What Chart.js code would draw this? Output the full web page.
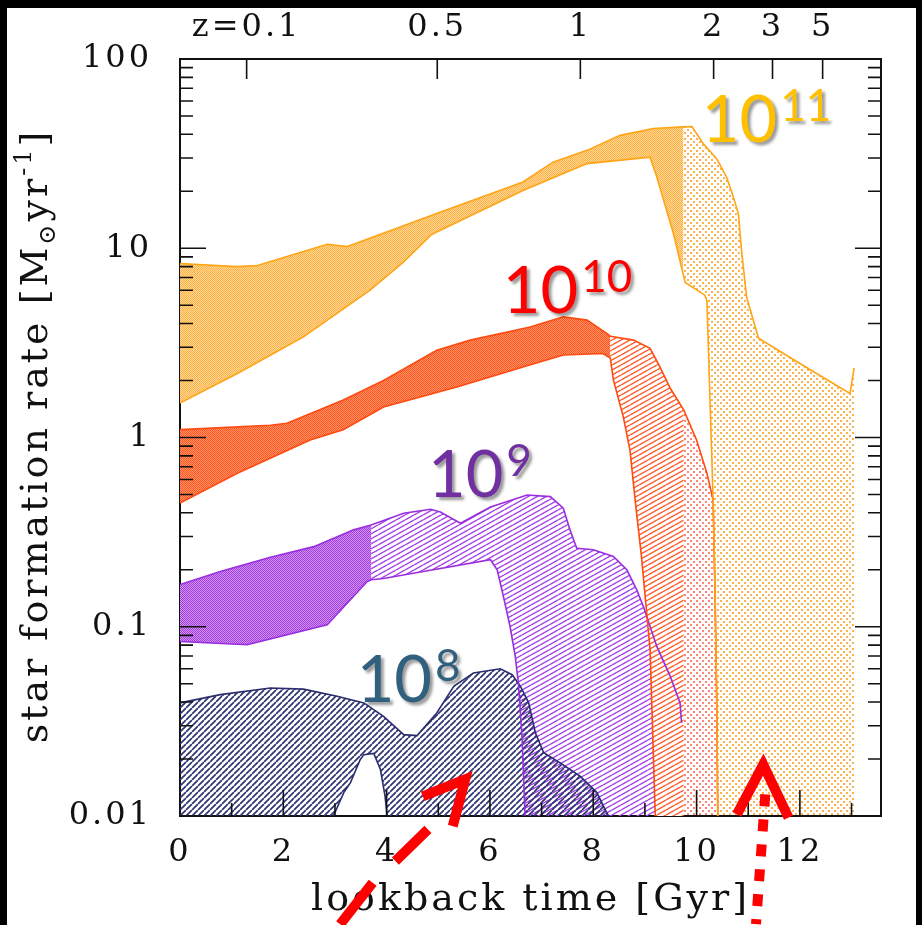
<!DOCTYPE html>
<html>
<head>
<meta charset="utf-8">
<title>Star formation histories</title>
<script src="https://cdn.jsdelivr.net/npm/chart.js"></script>
<style>
  html, body { margin: 0; padding: 0; background: #000; }
  #wrap { width: 922px; height: 925px; }
</style>
</head>
<body>
<div id="wrap"><canvas id="sfr" width="922" height="925"></canvas></div>
<script>
// lower edge for regions that run down to the bottom axis (sits below 0.01, gets clipped)
const FLOOR = 0.005;

// axis ticks
const xTickValues = [0, 2, 4, 6, 8, 10, 12];
const yTickValues = [0.01, 0.1, 1, 10, 100];
const yTickLabels = ['0.01', '0.1', '1', '10', '100'];
const zTickAges = [1.29, 4.98, 7.75, 10.33, 11.47, 12.44];
const zTickLabels = ['z=0.1', '0.5', '1', '2', '3', '5'];

// 10^11 halo: [lookback Gyr, SFR]
const m11DenseTop = [[0, 8.3], [1.1, 8.0], [1.5, 8.1], [2.85, 10.5], [3.24, 10.2], [4.98, 15.3], [6.64, 22.4],
  [7.22, 28.5], [7.88, 32.9], [8.52, 39.5], [9.16, 42.9], [9.74, 43.8]];
const m11DenseBottom = [[0, 1.52], [1.11, 2.18], [2.39, 3.4], [3.68, 6.0], [4.33, 8.47], [4.85, 11.7], [4.97, 12.2],
  [6.64, 20.2], [7.88, 28], [9.1, 30.3], [9.23, 23.8], [9.55, 12.0], [9.74, 7.3]];
const m11DotsTop = [[9.74, 43.8], [9.91, 44], [10.13, 35.7], [10.39, 29.7], [10.58, 23.8], [10.71, 18.7], [10.81, 15.2],
  [10.87, 9.75], [10.97, 5.5], [11.2, 3.35], [12.0, 2.46], [12.97, 1.71], [13.05, 2.33]];
const m11DotsBottom = [[9.74, 7.3], [9.78, 6.6], [10.16, 5.65], [10.2, 5.3], [10.26, 1.58], [10.32, 0.47], [10.36, 0.139],
  [10.39, 0.041], [10.41, 0.01], [10.41, FLOOR], [13.05, FLOOR]];

// 10^10 halo
const m10DenseTop = [[0, 1.10], [1.75, 1.16], [2.07, 1.19], [3.16, 1.58], [3.94, 2.0], [4.97, 2.89], [5.62, 3.27],
  [6.78, 3.84], [7.42, 4.34], [7.88, 4.17], [8.26, 3.55], [8.33, 3.43]];
const m10DenseBottom = [[0, 0.45], [1.11, 0.647], [2.52, 0.97], [3.16, 1.10], [3.94, 1.45], [5.36, 1.85], [6.64, 2.36],
  [7.42, 2.73], [8.19, 2.78], [8.33, 2.63]];
const m10HatchTop = [[8.33, 3.43], [8.78, 3.27], [9.1, 2.96], [9.29, 2.36], [9.49, 1.82], [9.75, 1.40]];
const m10HatchBottom = [[8.33, 2.63], [8.39, 2.01], [8.58, 1.29], [8.71, 0.86], [8.81, 0.468], [8.93, 0.24], [9.1, 0.0757],
  [9.16, 0.0224], [9.2, 0.01], [9.2, FLOOR], [9.75, FLOOR]];
const m10DotsTop = [[9.75, 1.40], [10.0, 0.97], [10.2, 0.647], [10.32, 0.468], [10.36, 0.139], [10.39, 0.041], [10.41, 0.01]];
const m10DotsBottom = [[9.75, FLOOR], [10.41, FLOOR]];

// 10^9 halo
const m9DenseTop = [[0, 0.167], [0.78, 0.196], [1.75, 0.233], [2.59, 0.265], [3.36, 0.325], [3.7, 0.345]];
const m9DenseBottom = [[0, 0.0836], [1.3, 0.0804], [2.85, 0.1025], [3.62, 0.173], [3.7, 0.177]];
const m9HatchTop = [[3.7, 0.345], [4.33, 0.398], [4.85, 0.418], [5.04, 0.404], [5.43, 0.352], [6.01, 0.43], [6.72, 0.497],
  [7.17, 0.487], [7.42, 0.423], [7.55, 0.325], [7.68, 0.26], [8.0, 0.255], [8.39, 0.235], [8.65, 0.2], [8.84, 0.157],
  [8.97, 0.128], [9.23, 0.0787], [9.49, 0.0547], [9.68, 0.0396], [9.71, 0.031], [9.74, 0.01]];
const m9HatchBottom = [[3.7, 0.177], [3.94, 0.18], [4.71, 0.196], [6.01, 0.226], [6.14, 0.2], [6.26, 0.145], [6.39, 0.1],
  [6.49, 0.0697], [6.55, 0.0505], [6.62, 0.0263], [6.68, 0.01], [6.68, FLOOR], [9.74, FLOOR]];

// 10^8 halo, with the gap around 3-4 Gyr
const m8Top = [[0, 0.0396], [0.78, 0.0438], [1.75, 0.0475], [2.39, 0.0468], [3.04, 0.0429], [3.56, 0.0396], [3.94, 0.0336],
  [4.33, 0.0269], [4.59, 0.0266], [4.97, 0.035], [5.3, 0.0484], [5.68, 0.057], [6.2, 0.06], [6.43, 0.0558], [6.59, 0.0484],
  [6.75, 0.0396], [6.88, 0.0275], [7.04, 0.0216], [7.36, 0.0191], [7.75, 0.0162], [8.07, 0.0133], [8.26, 0.0104], [8.3, 0.01]];
const m8Gap = [[2.97, 0.01], [3.17, 0.0133], [3.3, 0.015], [3.49, 0.0199], [3.56, 0.0211], [3.75, 0.0214], [3.88, 0.0176],
  [3.97, 0.0127], [4.01, 0.01]];
const m8Bottom = [[0, FLOOR], [2.97, FLOOR]].concat(m8Gap, [[4.01, FLOOR], [8.3, FLOOR]]);

// mass labels and arrows, in data units
const massBase = '10';
const massExps = ['11', '10', '9', '8'];
const massAnchors = [[10.1, 36.4], [6.25, 4.55], [4.8, 0.482], [3.42, 0.04]];
const massColors = ['#FFC000', '#FF0000', '#7030A0', '#31607F'];
const dashArrowShaft = [[[3.1, 0.00268], [3.73, 0.00444]], [[4.17, 0.00577], [4.8, 0.00849]]];
const dashArrowHead = [[4.7, 0.0127], [5.52, 0.0156], [5.28, 0.00884]];
const dotArrowShaft = [[11.33, 0.013], [11.15, 0.00268]];
const dotArrowHead = [[10.78, 0.0102], [11.29, 0.0187], [11.78, 0.0098]];

const serif = 'DejaVu Serif';

function tile(w, h, paint) {
  const c = document.createElement('canvas');
  c.width = w; c.height = h;
  const g = c.getContext('2d');
  paint(g, w, h);
  return g.createPattern(c, 'repeat');
}
const mesh = (a, b) => tile(2, 2, g => {
  g.fillStyle = b; g.fillRect(0, 0, 2, 2);
  g.fillStyle = a; g.fillRect(0, 0, 1, 1); g.fillRect(1, 1, 1, 1);
});
const dots = col => tile(6, 6, g => {
  g.fillStyle = col; g.fillRect(0, 0, 2, 2); g.fillRect(3, 3, 2, 2);
});
const hatch = (col, w, h, lw, bg) => tile(w, h, g => {
  if (bg) { g.fillStyle = bg; g.fillRect(0, 0, w, h); }
  g.strokeStyle = col; g.lineWidth = lw;
  g.beginPath();
  for (const k of [-1, 0, 1]) { g.moveTo(0, h * (k + 1)); g.lineTo(w, h * k); }
  g.stroke();
});

const pts = arr => arr.map(([x, y]) => ({ x, y }));
const above = arr => arr.filter(p => p[1] >= 0.01);

function region(top, bottom, fillStyle, order) {
  return {
    data: pts(top.concat(bottom.slice().reverse())),
    fill: 'shape', backgroundColor: fillStyle, borderWidth: 0, borderColor: 'transparent',
    pointRadius: 0, order, xAxisID: 'x', yAxisID: 'y'
  };
}
function outline(arr, color) {
  return {
    data: pts(arr), fill: false, borderColor: color, borderWidth: 1.6,
    pointRadius: 0, order: 0, xAxisID: 'x', yAxisID: 'y'
  };
}

const datasets = [
  region(m8Top, m8Bottom, hatch('#2F3473', 6, 6, 1.7), 1),
  region(m10HatchTop, m10HatchBottom, hatch('#FF5A28', 9, 5, 1.4, '#fff'), 2),
  region(m9DenseTop, m9DenseBottom, mesh('#A23AE0', '#CF97F0'), 3),
  region(m9HatchTop, m9HatchBottom, hatch('#A441E8', 9, 5, 1.4), 4),
  region(m10DenseTop, m10DenseBottom, mesh('#FF5520', '#FF9368'), 5),
  region(m10DotsTop, m10DotsBottom, dots('#FF8577'), 6),
  region(m11DenseTop, m11DenseBottom, mesh('#FFB040', '#FFD89A'), 7),
  region(m11DotsTop, m11DotsBottom, dots('#FFB347'), 8),
  outline(m11DenseTop.concat(m11DotsTop.slice(1)), '#FFA415'),
  outline(m11DenseBottom.concat(above(m11DotsBottom.slice(1))), '#FFA415'),
  outline(m10DenseTop.concat(m10HatchTop.slice(1), m10DotsTop.slice(1)), '#FF4A10'),
  outline(m10DenseBottom.concat(above(m10HatchBottom.slice(1))), '#FF4A10'),
  outline(m9DenseTop.concat(m9HatchTop.slice(1, -1)), '#9A2EE0'),
  outline(m9DenseBottom.concat(above(m9HatchBottom.slice(1))), '#9A2EE0'),
  outline(m8Top, '#2B2E6E'),
  outline(m8Gap, '#2B2E6E')
];

// black frame around a white page
const frame = {
  id: 'frame',
  beforeDraw(chart) {
    const c = chart.ctx;
    c.save();
    c.fillStyle = '#000';
    c.fillRect(0, 0, chart.width, chart.height);
    c.fillStyle = '#fff';
    c.fillRect(7, 8, 909, chart.height - 8);
    c.restore();
    c.letterSpacing = '3px';
  }
};

// tick marks point into the plot on all four sides
const innerTicks = {
  id: 'innerTicks',
  afterDraw(chart) {
    const { ctx, chartArea: a, scales } = chart;
    const x = scales.x, y = scales.y;
    ctx.save();
    ctx.strokeStyle = '#111';
    ctx.lineWidth = 1.6;
    ctx.beginPath();
    for (let d = -2; d < 2; d++) {
      for (let m = 1; m <= 9; m++) {
        const py = y.getPixelForValue(m * Math.pow(10, d));
        const len = m === 1 ? 26 : 13;
        ctx.moveTo(a.left, py); ctx.lineTo(a.left + len, py);
        ctx.moveTo(a.right, py); ctx.lineTo(a.right - len, py);
      }
    }
    for (let t = 1; t <= 13; t++) {
      const px = x.getPixelForValue(t);
      ctx.moveTo(px, a.bottom); ctx.lineTo(px, a.bottom - (t % 2 === 0 ? 26 : 13));
    }
    for (const t of zTickAges) {
      const px = x.getPixelForValue(t);
      ctx.moveTo(px, a.top); ctx.lineTo(px, a.top + 20);
    }
    ctx.stroke();
    ctx.restore();
  }
};

// mass labels, arrows and the rotated y title
const annotations = {
  id: 'annotations',
  afterDraw(chart) {
    const { ctx, scales } = chart;
    const X = v => scales.x.getPixelForValue(v);
    const Y = v => scales.y.getPixelForValue(v);

    ctx.save();
    ctx.letterSpacing = '0px';
    ctx.textBaseline = 'alphabetic';
    ctx.shadowColor = 'rgba(0,0,0,0.4)';
    ctx.shadowOffsetX = 3;
    ctx.shadowOffsetY = 3;
    ctx.shadowBlur = 3;
    massExps.forEach((exp, i) => {
      const px = X(massAnchors[i][0]), py = Y(massAnchors[i][1]);
      ctx.fillStyle = massColors[i];
      ctx.font = '65px Lato';
      ctx.fillText(massBase, px, py);
      const w = ctx.measureText(massBase).width;
      ctx.font = '44px Lato';
      ctx.fillText(exp, px + w + 3, py - 21);
    });
    ctx.restore();

    ctx.save();
    ctx.strokeStyle = '#FF0000';
    ctx.lineWidth = 10;
    ctx.lineCap = 'butt';
    ctx.lineJoin = 'miter';
    ctx.beginPath();
    for (const [p, q] of dashArrowShaft) {
      ctx.moveTo(X(p[0]), Y(p[1])); ctx.lineTo(X(q[0]), Y(q[1]));
    }
    ctx.stroke();
    for (const head of [dashArrowHead, dotArrowHead]) {
      ctx.beginPath();
      head.forEach(([hx, hy], k) => k ? ctx.lineTo(X(hx), Y(hy)) : ctx.moveTo(X(hx), Y(hy)));
      ctx.stroke();
    }
    ctx.setLineDash([12, 13]);
    ctx.beginPath();
    ctx.moveTo(X(dotArrowShaft[0][0]), Y(dotArrowShaft[0][1]));
    ctx.lineTo(X(dotArrowShaft[1][0]), Y(dotArrowShaft[1][1]));
    ctx.stroke();
    ctx.restore();

    // y title with subscript sun symbol and superscript -1
    const parts = [
      { t: 'star formation rate [M', size: 38, dy: 0 },
      { t: '\u2299', size: 24, dy: 8 },
      { t: 'yr', size: 38, dy: 0 },
      { t: '-1', size: 24, dy: -16 },
      { t: ']', size: 38, dy: 0 }
    ];
    ctx.save();
    ctx.letterSpacing = '3px';
    ctx.fillStyle = '#111';
    ctx.textBaseline = 'alphabetic';
    let total = 0;
    for (const p of parts) { ctx.font = p.size + 'px "' + serif + '"'; p.w = ctx.measureText(p.t).width; total += p.w; }
    ctx.translate(47, 436);
    ctx.rotate(-Math.PI / 2);
    let cx = -total / 2;
    for (const p of parts) {
      ctx.font = p.size + 'px "' + serif + '"';
      ctx.fillText(p.t, cx, p.dy);
      cx += p.w;
    }
    ctx.restore();
  }
};

const axisBorder = { display: true, color: '#111', width: 2 };
const tickFont = { family: serif, size: 32 };

new Chart(document.getElementById('sfr'), {
  type: 'line',
  data: { datasets },
  options: {
    responsive: false,
    animation: false,
    devicePixelRatio: 1,
    events: [],
    layout: { padding: 0 },
    plugins: { legend: { display: false }, tooltip: { enabled: false } },
    elements: { point: { radius: 0 }, line: { tension: 0 } },
    scales: {
      x: {
        type: 'linear', position: 'bottom', min: 0, max: 13.57,
        grid: { display: false, drawTicks: false }, border: axisBorder,
        afterBuildTicks: s => { s.ticks = xTickValues.map(v => ({ value: v })); },
        afterFit: s => { s.height = 109; },
        ticks: { font: tickFont, color: '#111', padding: 17, maxRotation: 0, autoSkip: false },
        title: { display: true, text: 'lookback time [Gyr]', font: { family: serif, size: 38 }, color: '#111', padding: { top: 0, bottom: 2 } }
      },
      xTop: {
        type: 'linear', position: 'top', min: 0, max: 13.57,
        grid: { display: false, drawTicks: false }, border: axisBorder,
        afterBuildTicks: s => { s.ticks = zTickAges.map(v => ({ value: v })); },
        afterFit: s => { s.height = 59; },
        ticks: { callback: (v, i) => zTickLabels[i], font: tickFont, color: '#111', padding: 12, maxRotation: 0, autoSkip: false }
      },
      y: {
        type: 'logarithmic', position: 'left', min: 0.01, max: 100,
        grid: { display: false, drawTicks: false }, border: axisBorder,
        afterBuildTicks: s => { s.ticks = yTickValues.map(v => ({ value: v })); },
        afterFit: s => { s.width = 180; },
        ticks: { callback: (v, i) => yTickLabels[i], font: tickFont, color: '#111', padding: 28, autoSkip: false }
      },
      yRight: {
        type: 'logarithmic', position: 'right', min: 0.01, max: 100,
        grid: { display: false, drawTicks: false }, border: axisBorder,
        ticks: { display: false },
        afterFit: s => { s.width = 41; }
      }
    }
  },
  plugins: [frame, innerTicks, annotations]
});
</script>
</body>
</html>
